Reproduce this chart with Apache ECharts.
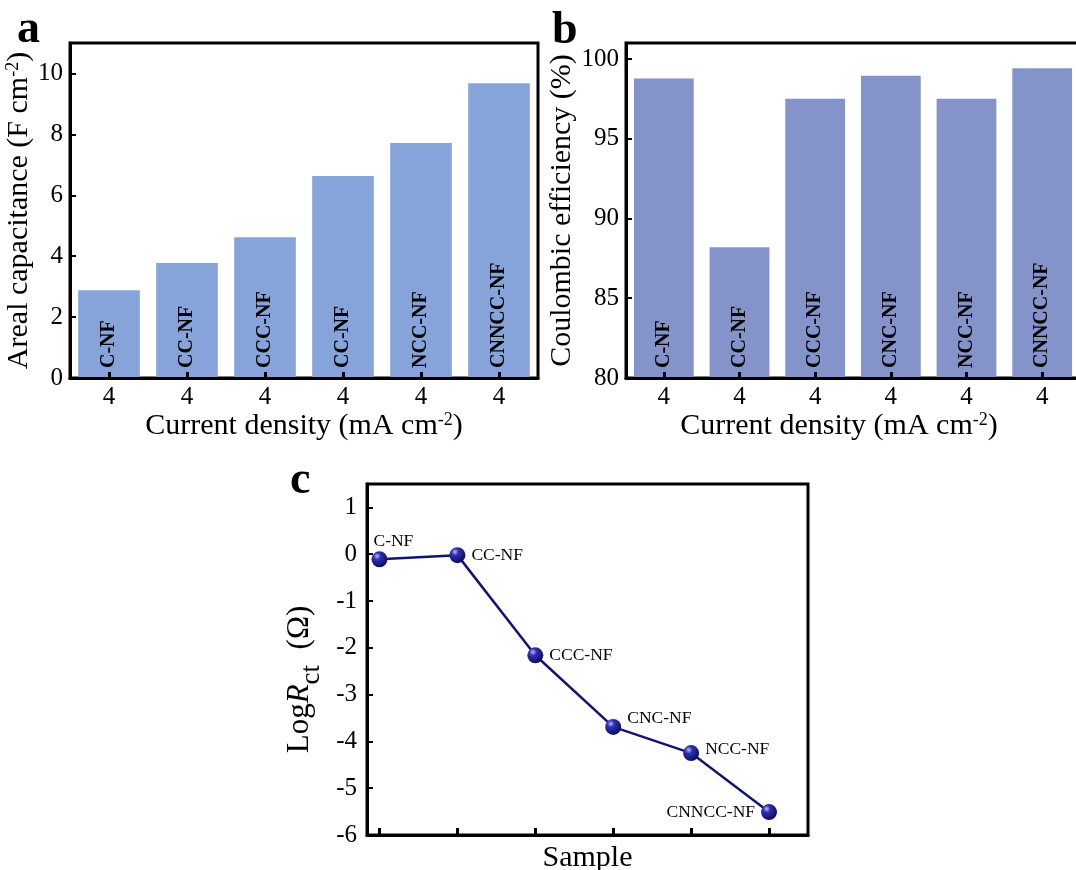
<!DOCTYPE html>
<html>
<head>
<meta charset="utf-8">
<script src="https://cdn.jsdelivr.net/npm/echarts@6/dist/echarts.min.js"></script>
<style>html,body{margin:0;padding:0;background:#fff;}#c{width:1076px;height:870px;}</style>
</head>
<body>
<div id="c"></div>
<script>
// ---- data ----
const densityTicks = ['4', '4', '4', '4', '4', '4'];
const samplesA = ['C-NF', 'CC-NF', 'CCC-NF', 'CC-NF', 'NCC-NF', 'CNNCC-NF'];
const arealCap = [2.88, 3.78, 4.62, 6.63, 7.72, 9.68];
const samplesB = ['C-NF', 'CC-NF', 'CCC-NF', 'CNC-NF', 'NCC-NF', 'CNNCC-NF'];
const coulombEff = [98.78, 88.2, 97.5, 98.94, 97.5, 99.42];
const samplesC = ['C-NF', 'CC-NF', 'CCC-NF', 'CNC-NF', 'NCC-NF', 'CNNCC-NF'];
const sampleIndex = [0, 1, 2, 3, 4, 5];
const logRct = [-0.11, -0.02, -2.16, -3.69, -4.25, -5.51];

const FONT = 'Liberation Serif';
const chart = echarts.init(document.getElementById('c'), null, {renderer: 'canvas'});

const axisLineStyle = {onZero: false, lineStyle: {color: '#000', width: 3}};
const tickLabel = {color: '#000', fontFamily: FONT, fontSize: 25};
const nameStyleBase = {color: '#000', fontFamily: FONT, fontSize: 30};
const supRich = {sup: {fontFamily: FONT, fontSize: 18, verticalAlign: 'top', color: '#000'}};

const barLabel = (names) => ({
  show: true,
  position: 'insideBottom',
  rotate: 90,
  align: 'left',
  verticalAlign: 'middle',
  distance: 10,
  fontFamily: FONT,
  fontWeight: 'bold',
  fontSize: 20,
  color: '#000',
  formatter: p => names[p.dataIndex]
});

// label placement for panel c (style only)
const cLabelPlace = [
  {position: 'top', align: 'left', offset: [-6, 4]},
  {position: 'right', distance: 6},
  {position: 'right', distance: 6},
  {position: 'right', distance: 6, offset: [0, -8]},
  {position: 'right', distance: 6, offset: [0, -4]},
  {position: 'left', distance: 6}
];

const sphere = new echarts.graphic.RadialGradient(0.35, 0.3, 0.75, [
  {offset: 0, color: '#b8b8ff'},
  {offset: 0.3, color: '#3030b0'},
  {offset: 1, color: '#0a0a55'}
]);

const gridBase = {show: true, borderColor: '#000', borderWidth: 3, containLabel: false, outerBoundsMode: 'none'};

const option = {
  animation: false,
  backgroundColor: '#fff',
  grid: [
    Object.assign({left: 70, top: 43, width: 468, height: 335}, gridBase),
    Object.assign({left: 626, top: 43, width: 454, height: 335}, gridBase),
    Object.assign({left: 367, top: 484, width: 441, height: 351}, gridBase)
  ],
  xAxis: [
    {
      gridIndex: 0, type: 'category', data: samplesA, z: 10,
      axisLine: axisLineStyle,
      axisTick: {show: true, inside: true, alignWithLabel: true, length: 6, lineStyle: {color: '#000', width: 3}},
      axisLabel: Object.assign({margin: 7, interval: 0, formatter: (v, i) => densityTicks[i]}, tickLabel),
      name: 'Current density (mA cm{sup|-2})', nameLocation: 'middle', nameGap: 29,
      nameTextStyle: Object.assign({rich: supRich}, nameStyleBase)
    },
    {
      gridIndex: 1, type: 'category', data: samplesB, z: 10,
      axisLine: axisLineStyle,
      axisTick: {show: true, inside: true, alignWithLabel: true, length: 6, lineStyle: {color: '#000', width: 3}},
      axisLabel: Object.assign({margin: 7, interval: 0, formatter: (v, i) => densityTicks[i]}, tickLabel),
      name: 'Current density (mA cm{sup|-2})', nameLocation: 'middle', nameGap: 31,
      nameTextStyle: Object.assign({rich: supRich, padding: [0, 28, 0, 0]}, nameStyleBase)
    },
    {
      gridIndex: 2, type: 'value', min: -0.16, max: 5.5, z: 10,
      splitLine: {show: false},
      axisLine: axisLineStyle,
      axisTick: {show: true, inside: true, length: 7, customValues: sampleIndex, lineStyle: {color: '#000', width: 3}},
      axisLabel: {show: false},
      name: 'Sample', nameLocation: 'middle', nameGap: 8,
      nameTextStyle: Object.assign({}, nameStyleBase, {verticalAlign: 'top'})
    }
  ],
  yAxis: [
    {
      gridIndex: 0, type: 'value', min: 0, max: 11, interval: 2, z: 10,
      splitLine: {show: false},
      axisLine: {show: true, onZero: false, lineStyle: {color: '#000', width: 3}},
      axisTick: {show: true, inside: true, length: 6, lineStyle: {color: '#000', width: 2}},
      axisLabel: Object.assign({margin: 7, showMaxLabel: false}, tickLabel),
      name: 'Areal capacitance (F cm{sup|-2})', nameLocation: 'middle', nameGap: 12, nameRotate: 90,
      nameTextStyle: Object.assign({rich: supRich}, nameStyleBase)
    },
    {
      gridIndex: 1, type: 'value', min: 80, max: 101, interval: 5, z: 10,
      splitLine: {show: false},
      axisLine: {show: true, onZero: false, lineStyle: {color: '#000', width: 3}},
      axisTick: {show: true, inside: true, length: 6, lineStyle: {color: '#000', width: 2}},
      axisLabel: Object.assign({margin: 7, showMaxLabel: false}, tickLabel),
      name: 'Coulombic efficiency (%)', nameLocation: 'middle', nameGap: 40, nameRotate: 90,
      nameTextStyle: nameStyleBase
    },
    {
      gridIndex: 2, type: 'value', min: -6, max: 1.5, interval: 1, z: 10,
      splitLine: {show: false},
      axisLine: {show: true, onZero: false, lineStyle: {color: '#000', width: 3}},
      axisTick: {show: true, inside: true, length: 6, lineStyle: {color: '#000', width: 2}},
      axisLabel: Object.assign({margin: 10, showMaxLabel: false}, tickLabel),
      name: 'Log{i|R}{sub|ct}  (Ω)', nameLocation: 'middle', nameGap: 42, nameRotate: 90,
      nameTextStyle: Object.assign({
        padding: [0, 40, 0, 0],
        rich: {
          i: {fontFamily: FONT, fontSize: 31, fontStyle: 'italic', color: '#000'},
          sub: {fontFamily: FONT, fontSize: 27, verticalAlign: 'bottom', padding: [24, 0, 0, 0], color: '#000'}
        }
      }, nameStyleBase, {fontSize: 31})
    }
  ],
  series: [
    {
      type: 'bar', xAxisIndex: 0, yAxisIndex: 0, data: arealCap, barWidth: '79%',
      itemStyle: {color: '#87A4DA'}, label: barLabel(samplesA)
    },
    {
      type: 'bar', xAxisIndex: 1, yAxisIndex: 1, data: coulombEff, barWidth: '79%',
      itemStyle: {color: '#8494CA'}, label: barLabel(samplesB)
    },
    {
      type: 'line', xAxisIndex: 2, yAxisIndex: 2,
      data: sampleIndex.map((x, i) => ({
        value: [x, logRct[i]],
        label: Object.assign({show: true, formatter: samplesC[i]}, cLabelPlace[i])
      })),
      lineStyle: {color: '#14146e', width: 2.5},
      symbol: 'circle', symbolSize: 16,
      itemStyle: {color: sphere, borderWidth: 0},
      label: {fontFamily: FONT, fontSize: 17.5, color: '#000'},
      z: 5
    }
  ],
  graphic: [
    {type: 'text', left: 17, top: 7, style: {text: 'a', fontFamily: FONT, fontWeight: 'bold', fontSize: 46, fill: '#000'}},
    {type: 'text', left: 552, top: 8, style: {text: 'b', fontFamily: FONT, fontWeight: 'bold', fontSize: 46, fill: '#000'}},
    {type: 'text', left: 290, top: 458, style: {text: 'c', fontFamily: FONT, fontWeight: 'bold', fontSize: 46, fill: '#000'}}
  ]
};
chart.setOption(option);
</script>
</body>
</html>
